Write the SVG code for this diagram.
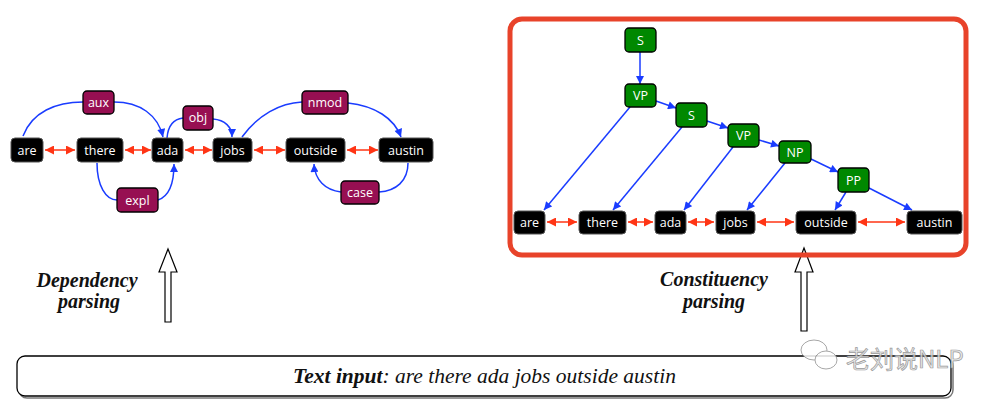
<svg xmlns="http://www.w3.org/2000/svg" width="994" height="406" viewBox="0 0 994 406">
<style>
.word rect{fill:#000;stroke:#555;stroke-width:1}
.word text,.lab text,.cn text{fill:#fff;font-family:"Open Sans","Noto Sans",sans-serif;font-size:12.5px;text-anchor:middle;dominant-baseline:central}
.lab rect{fill:#970f52;stroke:#000;stroke-width:1.3}
.cn rect{fill:#008800;stroke:#000;stroke-width:1.3}
.blue{fill:none;stroke:#1a3cff;stroke-width:1.5}
.red{fill:none;stroke:#ff3515;stroke-width:1.5}
.cap{font-family:"Liberation Serif","Times New Roman",serif;font-style:italic;font-weight:bold;font-size:20px;text-anchor:middle;fill:#111}
.hollow{fill:#fff;stroke:#000;stroke-width:1.2}
</style>
<defs>
<marker id="ab" viewBox="0 0 10 10" refX="10" refY="5" markerWidth="9" markerHeight="8" markerUnits="userSpaceOnUse" orient="auto"><path d="M0,0 L10,5 L0,10 z" fill="#1a3cff"/></marker>
<marker id="ar" viewBox="0 0 10 10" refX="10" refY="5" markerWidth="9" markerHeight="9" markerUnits="userSpaceOnUse" orient="auto-start-reverse"><path d="M0,0 L10,5 L0,10 z" fill="#ff3515"/></marker>
</defs>
<rect width="994" height="406" fill="#fff"/>

<!-- hollow arrows -->
<polygon class="hollow" points="168,249 177,272 171,272 171,322 165,322 165,272 159,272"/>
<polygon class="hollow" points="804,248 813,272 807,272 807,331 801,331 801,272 795,272"/>

<!-- constituency frame -->
<rect x="510" y="19" width="456" height="236" rx="12" fill="none" stroke="#e8432a" stroke-width="5"/>

<!-- connectors -->
<g id="connectors">
<line class="red" x1="45" y1="150" x2="75" y2="150" marker-start="url(#ar)" marker-end="url(#ar)"/>
<line class="red" x1="125" y1="150" x2="151" y2="150" marker-start="url(#ar)" marker-end="url(#ar)"/>
<line class="red" x1="185" y1="150" x2="212" y2="150" marker-start="url(#ar)" marker-end="url(#ar)"/>
<line class="red" x1="254" y1="150" x2="285" y2="150" marker-start="url(#ar)" marker-end="url(#ar)"/>
<line class="red" x1="347" y1="150" x2="378" y2="150" marker-start="url(#ar)" marker-end="url(#ar)"/>
<path class="blue" d="M23 136 C32 112 56 102 83 102"/>
<path class="blue" d="M114 102 C140 102 158 115 163 137" marker-end="url(#ab)"/>
<path class="blue" d="M97 163 C97 186 106 200 117 200"/>
<path class="blue" d="M158 200 C170 196 174 182 174 164" marker-end="url(#ab)"/>
<path class="blue" d="M167 138 C168 126 174 119 183 118"/>
<path class="blue" d="M213 119 C225 120 232 127 232 137" marker-end="url(#ab)"/>
<path class="blue" d="M242 137 C258 115 280 103 302 102"/>
<path class="blue" d="M348 103 C375 106 394 118 401 137" marker-end="url(#ab)"/>
<path class="blue" d="M408 163 C408 181 396 191 379 192"/>
<path class="blue" d="M341 192 C325 190 315 180 314 164" marker-end="url(#ab)"/>
<line class="red" x1="547" y1="222" x2="577" y2="222" marker-start="url(#ar)" marker-end="url(#ar)"/>
<line class="red" x1="628" y1="222" x2="653" y2="222" marker-start="url(#ar)" marker-end="url(#ar)"/>
<line class="red" x1="688" y1="222" x2="714" y2="222" marker-start="url(#ar)" marker-end="url(#ar)"/>
<line class="red" x1="757" y1="222" x2="794" y2="222" marker-start="url(#ar)" marker-end="url(#ar)"/>
<line class="red" x1="858" y1="222" x2="905" y2="222" marker-start="url(#ar)" marker-end="url(#ar)"/>
<line class="blue" x1="640" y1="52" x2="640" y2="84" marker-end="url(#ab)"/>
<line class="blue" x1="656" y1="101" x2="676" y2="108" marker-end="url(#ab)"/>
<line class="blue" x1="707" y1="121" x2="728" y2="128" marker-end="url(#ab)"/>
<line class="blue" x1="759" y1="140" x2="779" y2="146" marker-end="url(#ab)"/>
<line class="blue" x1="811" y1="159" x2="838" y2="172" marker-end="url(#ab)"/>
<line class="blue" x1="630" y1="107" x2="544" y2="210" marker-end="url(#ab)"/>
<line class="blue" x1="682" y1="127" x2="613" y2="210" marker-end="url(#ab)"/>
<line class="blue" x1="733" y1="147" x2="684" y2="210" marker-end="url(#ab)"/>
<line class="blue" x1="785" y1="163" x2="747" y2="210" marker-end="url(#ab)"/>
<line class="blue" x1="846" y1="192" x2="835" y2="210" marker-end="url(#ab)"/>
<line class="blue" x1="869" y1="188" x2="912" y2="210" marker-end="url(#ab)"/>
</g>

<!-- dependency nodes -->
<g id="dep-are" class="word"><rect x="11" y="138" width="32" height="24" rx="4"/><text x="27" y="150">are</text></g>
<g id="dep-there" class="word"><rect x="77" y="138" width="46" height="24" rx="4"/><text x="100" y="150">there</text></g>
<g id="dep-ada" class="word"><rect x="152" y="138" width="31" height="24" rx="4"/><text x="167.5" y="150">ada</text></g>
<g id="dep-jobs" class="word"><rect x="213" y="138" width="39" height="24" rx="4"/><text x="232.5" y="150">jobs</text></g>
<g id="dep-outside" class="word"><rect x="286" y="138" width="59" height="24" rx="4"/><text x="315.5" y="150">outside</text></g>
<g id="dep-austin" class="word"><rect x="379" y="138" width="54" height="24" rx="4"/><text x="406" y="150">austin</text></g>

<g id="lab-aux" class="lab"><rect x="83" y="91" width="31" height="23" rx="4"/><text x="98.5" y="102">aux</text></g>
<g id="lab-obj" class="lab"><rect x="183" y="106" width="30" height="24" rx="4"/><text x="198" y="117.5">obj</text></g>
<g id="lab-expl" class="lab"><rect x="117" y="188" width="41" height="24" rx="4"/><text x="137.5" y="200">expl</text></g>
<g id="lab-nmod" class="lab"><rect x="302" y="91" width="46" height="23" rx="4"/><text x="325" y="102">nmod</text></g>
<g id="lab-case" class="lab"><rect x="341" y="181" width="38" height="23" rx="4"/><text x="360" y="192">case</text></g>

<!-- constituency nodes -->
<g id="c-S1" class="cn"><rect x="625" y="28" width="31" height="24" rx="4"/><text x="640.5" y="40">S</text></g>
<g id="c-VP1" class="cn"><rect x="625" y="84" width="31" height="23" rx="4"/><text x="640.5" y="95.5">VP</text></g>
<g id="c-S2" class="cn"><rect x="676" y="103" width="31" height="24" rx="4"/><text x="691.5" y="115">S</text></g>
<g id="c-VP2" class="cn"><rect x="728" y="124" width="31" height="23" rx="4"/><text x="743.5" y="135.5">VP</text></g>
<g id="c-NP" class="cn"><rect x="779" y="141" width="32" height="22" rx="4"/><text x="795" y="152">NP</text></g>
<g id="c-PP" class="cn"><rect x="838" y="168" width="31" height="24" rx="4"/><text x="853.5" y="180">PP</text></g>

<g id="c-are" class="word"><rect x="514" y="211" width="31" height="23" rx="4"/><text x="529.5" y="222.5">are</text></g>
<g id="c-there" class="word"><rect x="579" y="211" width="47" height="23" rx="4"/><text x="602.5" y="222.5">there</text></g>
<g id="c-ada" class="word"><rect x="655" y="211" width="31" height="23" rx="4"/><text x="670.5" y="222.5">ada</text></g>
<g id="c-jobs" class="word"><rect x="716" y="211" width="39" height="23" rx="4"/><text x="735.5" y="222.5">jobs</text></g>
<g id="c-outside" class="word"><rect x="796" y="211" width="60" height="23" rx="4"/><text x="826" y="222.5">outside</text></g>
<g id="c-austin" class="word"><rect x="907" y="211" width="55" height="23" rx="4"/><text x="934.5" y="222.5">austin</text></g>

<!-- captions -->
<text class="cap" x="87" y="287">Dependency</text>
<text class="cap" x="89" y="308">parsing</text>
<text class="cap" x="714" y="286">Constituency</text>
<text class="cap" x="714" y="308">parsing</text>

<!-- text input box -->
<g id="text-input">
<rect x="19" y="358" width="934" height="40" rx="8" fill="none" stroke="#777" stroke-width="1.5"/>
<rect x="17" y="356" width="934" height="40" rx="8" fill="#fff" stroke="#000" stroke-width="1.3"/>
<text x="484.5" y="383" font-family="'Liberation Serif','Times New Roman',serif" font-size="21.5" font-style="italic" text-anchor="middle" fill="#111"><tspan font-weight="bold">Text input</tspan>: are there ada jobs outside austin</text>
</g>

<!-- watermark -->
<g id="watermark" opacity="0.85">
<ellipse cx="814" cy="350" rx="13" ry="10" fill="#fff" stroke="#999" stroke-width="1"/>
<ellipse cx="826" cy="360" rx="11" ry="9" fill="#fff" stroke="#999" stroke-width="1"/>
<text x="846" y="368" font-family="'Noto Sans CJK SC',sans-serif" font-size="24" fill="#e6e6e6" stroke="#888" stroke-width="0.7">老刘说NLP</text>
</g>
</svg>
